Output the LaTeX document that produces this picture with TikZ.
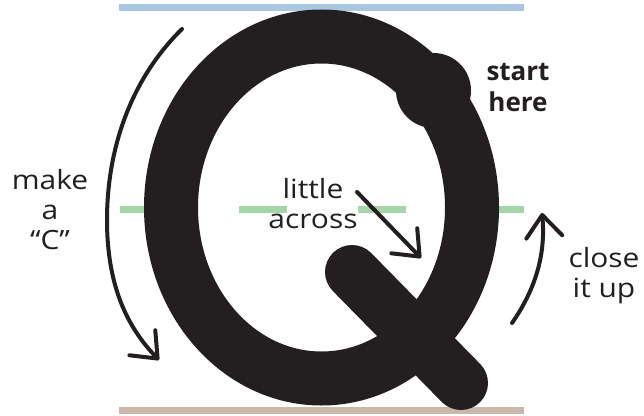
\documentclass[tikz,border=0pt]{standalone}
\usepackage{fontspec}
\setmainfont{Open Sans}
\newfontfamily\lblfont{Open Sans}[FakeStretch=1.13]
\usetikzlibrary{arrows.meta}
\definecolor{qblack}{HTML}{231F20}
\definecolor{blueline}{HTML}{A9C6E3}
\definecolor{greenline}{HTML}{A5D6A7}
\definecolor{brownline}{HTML}{C9B9AD}
\begin{document}
\begin{tikzpicture}[x=1pt,y=-1pt,
  guide/.style={line width=7pt},
  qstroke/.style={qblack, line width=54pt},
  hint/.style={qblack, line width=4pt, line cap=round, -{Straight Barb[length=22pt,width=36pt,round]}},
  lbl/.style={text=qblack, font=\lblfont\fontsize{26.5}{30}\selectfont, align=center, anchor=base, inner sep=0pt},
  boldlbl/.style={lbl, font=\bfseries\fontsize{26}{31}\selectfont}]
\useasboundingbox (0,0) rectangle (644,415);
% guide lines
\coordinate (blueL) at (119,7.5);   \coordinate (blueR) at (524,7.5);
\coordinate (greenL) at (120.3,209.5); \coordinate (greenR) at (524,209.5);
\coordinate (brownL) at (119,410.5); \coordinate (brownR) at (524,410.5);
\draw[guide, blueline] (blueL) -- (blueR);
\draw[guide, greenline, dash pattern=on 48pt off 70.7pt] (greenL) -- (greenR);
\draw[guide, brownline] (brownL) -- (brownR);
% the letter Q
\coordinate (qc) at (321.5,207.5);
\draw[qstroke] (qc) ellipse [x radius=150.5, y radius=171];
\coordinate (startdot) at (433.5,90.5);
\fill[qblack] (startdot) circle [radius=37.5];
\coordinate (tailA) at (352,272);
\coordinate (tailB) at (461,383);
\draw[qstroke, line cap=round] (tailA) -- (tailB);
% arrows
\coordinate (cA) at (182,29);
\coordinate (cM) at (107,220);
\coordinate (cB) at (159,360);
\draw[hint] (cA) .. controls (130,80) and (107,150) .. (cM) .. controls (107,290) and (130,330) .. (cB);
\coordinate (mA) at (357,192);
\coordinate (mB) at (421,258);
\draw[hint] (mA) -- (mB);
\coordinate (rA) at (512,323);
\coordinate (rB) at (542,213);
\draw[hint] (rA) .. controls (535,290) and (546,255) .. (rB);
% labels (anchor = baseline of the last line)
\node[lbl] (makec) at (50,249) {make\\a\\“C”};
\node[boldlbl] (start) at (518,111) {start\\here};
\node[lbl] (little) at (313,228) {little\\across};
\node[lbl] (close) at (604,297) {close\\it up};
\end{tikzpicture}
\end{document}
